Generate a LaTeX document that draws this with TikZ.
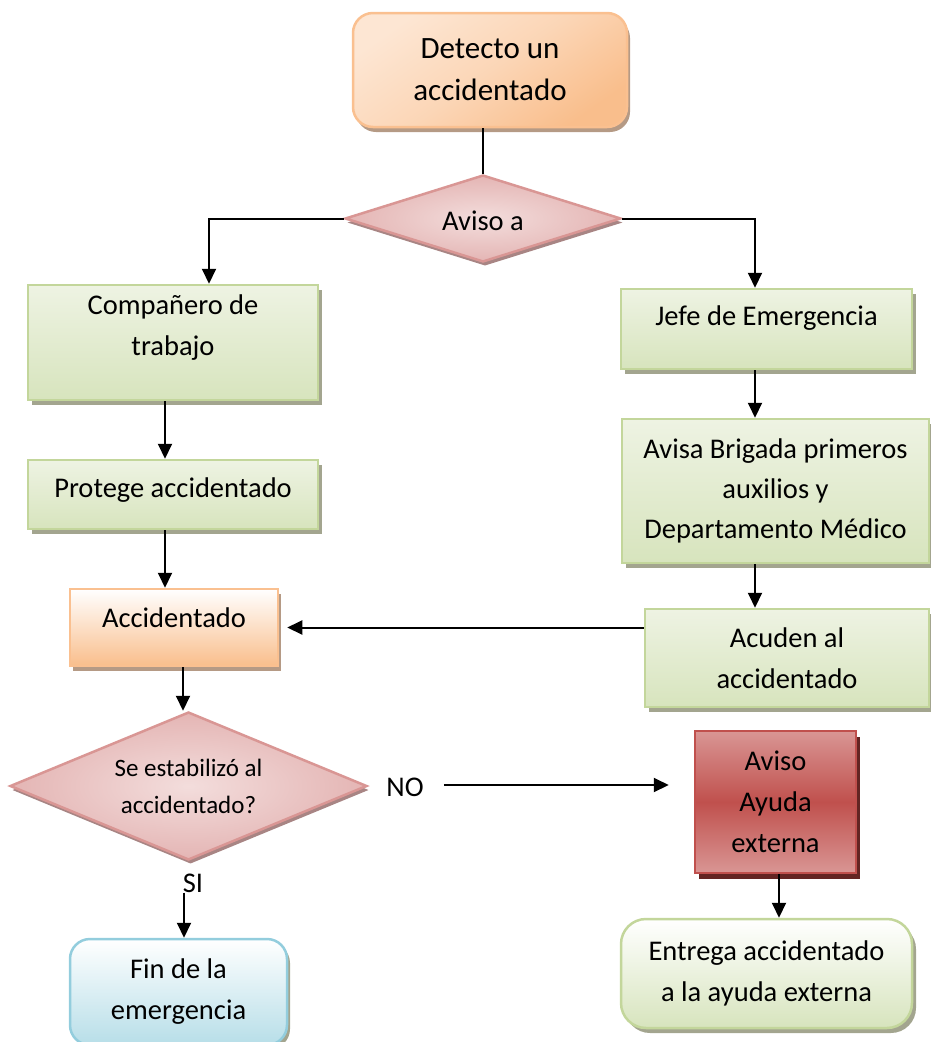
\documentclass[tikz,border=0pt]{standalone}
\usepackage{fontspec}
\setmainfont{Carlito}
\usetikzlibrary{shapes.geometric,shadows,arrows.meta}
\definecolor{gborder}{HTML}{C3D69B}
\definecolor{gtop}{HTML}{EEF3E3}
\definecolor{gbot}{HTML}{D7E4BD}
\definecolor{gshadow}{HTML}{A3A58F}
\definecolor{oborder}{HTML}{FAC090}
\definecolor{odark}{HTML}{F9BE8C}
\definecolor{olight}{HTML}{FDE6D3}
\definecolor{oshadow}{HTML}{B59A85}
\definecolor{dborder}{HTML}{D99694}
\definecolor{dlight}{HTML}{F3DDDC}
\definecolor{ddark}{HTML}{E4B5B4}
\definecolor{dshadow}{HTML}{A88584}
\definecolor{cborder}{HTML}{93CDDD}
\definecolor{cbot}{HTML}{B7DEE8}
\definecolor{rlight}{HTML}{D99694}
\definecolor{rmid}{HTML}{C0504D}
\definecolor{rshadow}{HTML}{632523}
\begin{document}
\begin{tikzpicture}[x=1pt,y=-1pt,
  txt/.style={font=\fontsize{28.5}{41}\selectfont, align=center, inner sep=0pt},
  gbox/.style={txt, rectangle, draw=gborder, line width=2.5pt, top color=gtop, bottom color=gbot,
    drop shadow={shadow xshift=4pt, shadow yshift=-5pt, fill=gshadow, opacity=1}},
  gbox2/.style={txt, rectangle, draw=gborder, line width=2.5pt, top color=white, bottom color=gbot,
    drop shadow={shadow xshift=4pt, shadow yshift=-5pt, fill=gshadow, opacity=1}},
  obox/.style={txt, rectangle, draw=oborder, line width=2.5pt,
    drop shadow={shadow xshift=3pt, shadow yshift=-5pt, fill=oshadow, opacity=1}},
  cbox/.style={txt, rectangle, draw=cborder, line width=2.5pt, top color=white, bottom color=cbot,
    drop shadow={shadow xshift=3pt, shadow yshift=-4pt, fill=gshadow, opacity=1}},
  rbox/.style={txt, rectangle, draw=rmid, line width=2.5pt, top color=rlight, bottom color=rlight, middle color=rmid,
    drop shadow={shadow xshift=4pt, shadow yshift=-6pt, fill=rshadow, opacity=1}},
  dia/.style={txt, diamond, draw=dborder, line width=2.5pt, inner color=dlight, outer color=ddark,
    drop shadow={shadow xshift=2pt, shadow yshift=-4pt, fill=dshadow, opacity=1}},
  ln/.style={line width=2pt, draw=black},
  arr/.style={ln, -{Triangle[length=15pt,width=14pt]}}
]
\useasboundingbox (0,0) rectangle (930,1042);

% nodes
\node[obox, rounded corners=20pt, minimum width=274pt, minimum height=114pt,
      font=\fontsize{31}{42}\selectfont,
      top color=olight, bottom color=odark, middle color=olight!60!odark, shading angle=35] (det) at (490,70) {Detecto un\\accidentado};
\node[dia, aspect=3.17, minimum width=276pt, minimum height=87pt, text height=23pt, text depth=0pt] (avisoa) at (483,218.5) {Aviso a};
\node[gbox, minimum width=290pt, minimum height=115pt,
      label={[txt,yshift=15pt]center:{Compañero de\\trabajo}}] (comp) at (173,342.5) {};
\node[gbox, minimum width=290pt, minimum height=69pt, text height=20pt, text depth=15pt] (prot) at (173,494.5) {Protege accidentado};
\node[obox, top color=white, bottom color=odark, minimum width=208pt, minimum height=77pt, text height=20pt, text depth=20pt] (acc) at (174,627.5) {Accidentado};
\node[dia, aspect=2.4, minimum width=357pt, minimum height=148pt, font=\fontsize{25}{37}\selectfont] (estab) at (188.5,786) {Se estabilizó al\\accidentado?};
\node[txt] (si) at (193,883) {SI};
\node[cbox, rounded corners=20pt, minimum width=217pt, minimum height=106pt] (fin) at (178.5,992) {Fin de la\\emergencia};
\node[gbox, minimum width=291pt, minimum height=80pt, text height=20pt, text depth=28pt] (jefe) at (766.5,329) {Jefe de Emergencia};
\node[gbox, minimum width=307pt, minimum height=144pt, font=\fontsize{28.5}{40}\selectfont] (avisa) at (775.5,491) {Avisa Brigada primeros\\auxilios y\\Departamento Médico};
\node[gbox, minimum width=284pt, minimum height=98pt] (acud) at (787,658) {Acuden al\\accidentado};
\node[txt] (no) at (405,787) {NO};
\node[rbox, minimum width=161pt, minimum height=142pt] (ext) at (775.5,802) {Aviso\\Ayuda\\externa};
\node[gbox2, rounded corners=25pt, minimum width=291pt, minimum height=109pt] (ent) at (766.5,973.5) {Entrega accidentado\\a la ayuda externa};

% connectors
\draw[ln] (det.south -| avisoa.north) -- (avisoa.north);
\draw[arr] (avisoa.west) -| ([xshift=36pt]comp.north);
\draw[arr] (avisoa.east) -| ([xshift=-11.5pt]jefe.north);
\draw[arr] ([xshift=-8pt]comp.south) -- ([xshift=-8pt]prot.north);
\draw[arr] ([xshift=-8pt]prot.south) -- ([xshift=-8pt]prot.south |- acc.north);
\draw[arr] ([xshift=9pt]acc.south) -- ([xshift=9pt]acc.south |- estab.north);
\draw[arr] ([xshift=-9pt]si.south) -- ([xshift=-9pt]si.south |- fin.north);
\draw[arr] ([xshift=-11.5pt]jefe.south) -- ([xshift=-11.5pt]jefe.south |- avisa.north);
\draw[arr] ([xshift=-20.5pt]avisa.south) -- ([xshift=-20.5pt]avisa.south |- acud.north);
\draw[arr, shorten >=8pt] (acc.east -| acud.west) -- (acc.east);
\draw[arr] ([xshift=20pt,yshift=2pt]no.east) -- ([xshift=-25pt,yshift=2pt]no.east -| ext.west);
\draw[arr] ([xshift=3.5pt]ext.south) -- ([xshift=3.5pt]ext.south |- ent.north);
\end{tikzpicture}
\end{document}
